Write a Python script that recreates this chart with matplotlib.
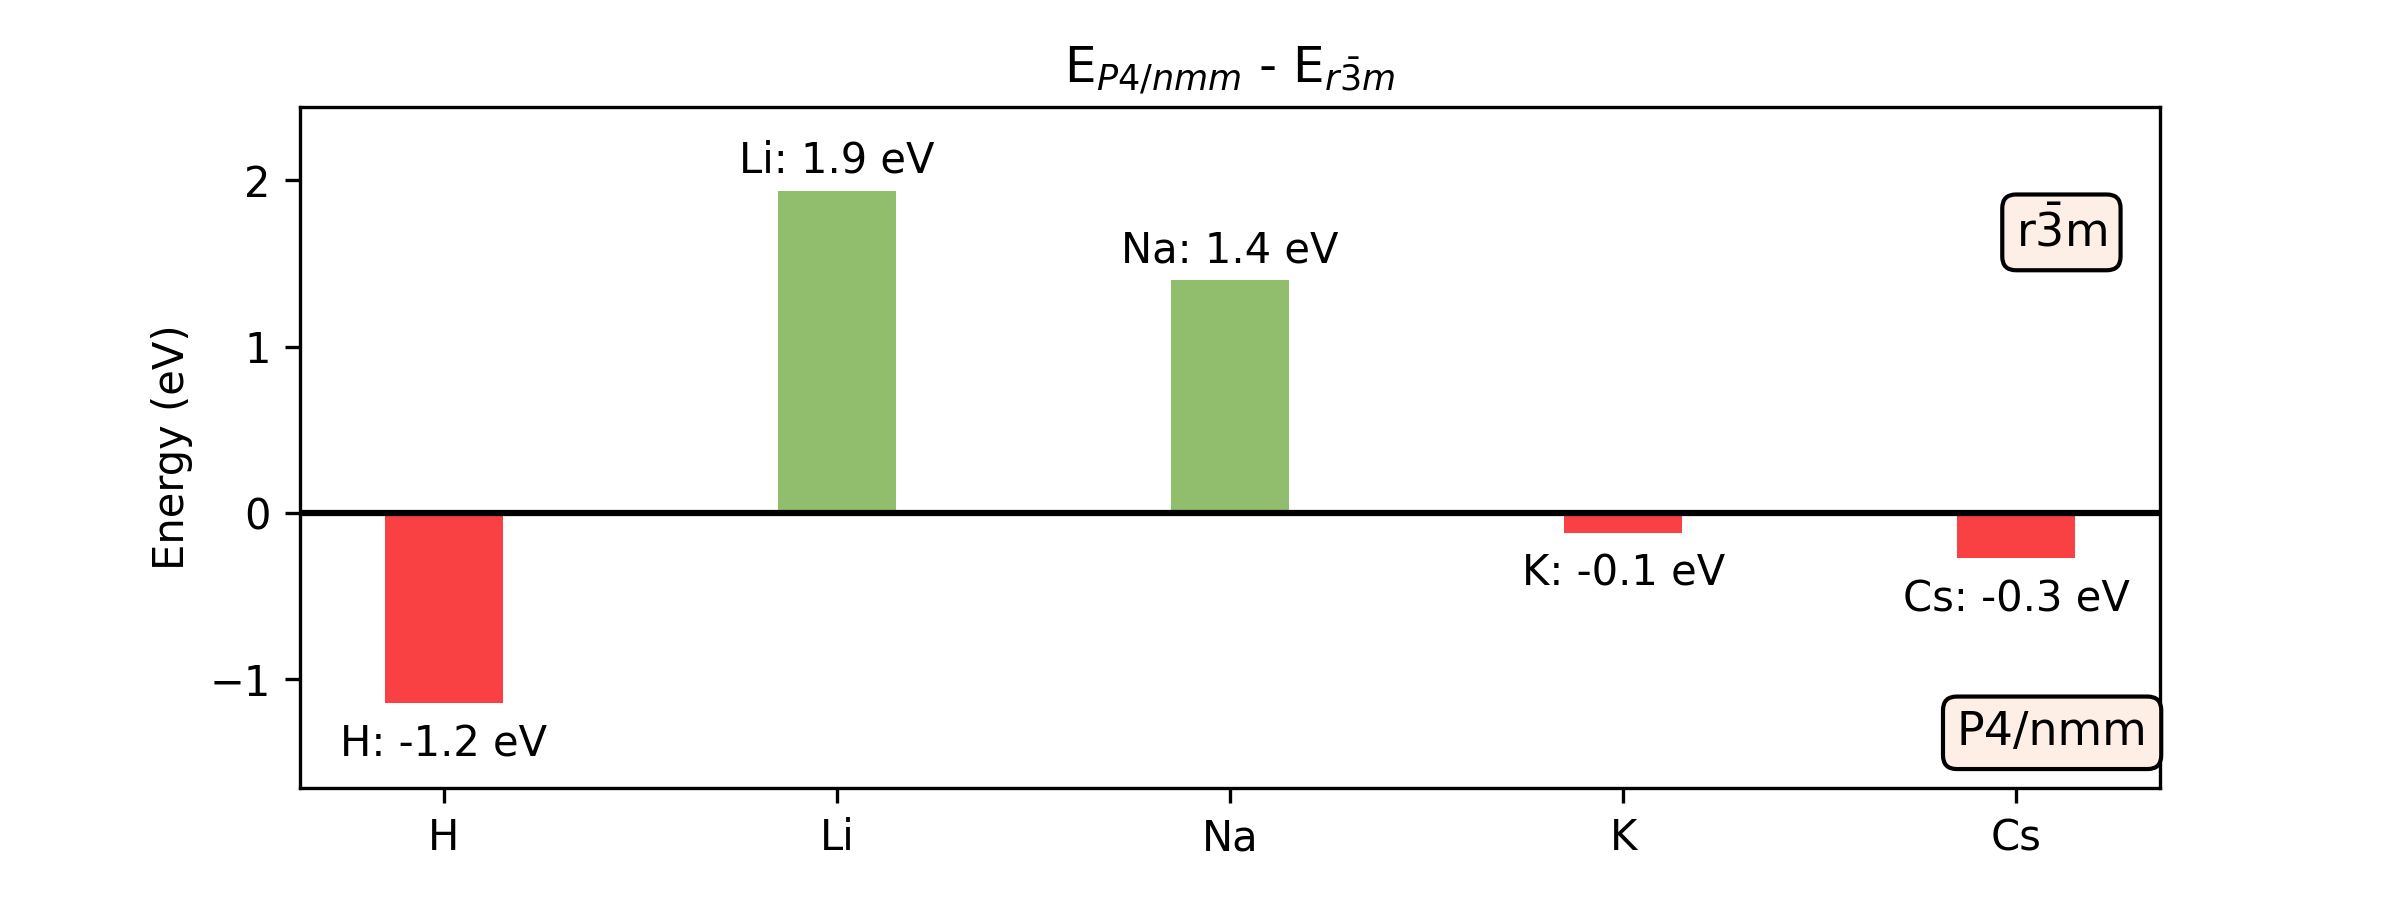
import matplotlib
matplotlib.use("Agg")
import matplotlib.pyplot as plt
import numpy as np

elements = ["H", "Li", "Na", "K", "Cs"]
energies = [-1.146, 1.937, 1.398, -0.12, -0.273]
labels = ["H: -1.2 eV", "Li: 1.9 eV", "Na: 1.4 eV", "K: -0.1 eV", "Cs: -0.3 eV"]

x = np.arange(len(elements))
colors = ["#90BE6D" if e > 0 else "#F94144" for e in energies]

fig, ax = plt.subplots(figsize=(8, 3), dpi=300)
fig.subplots_adjust(left=0.125, right=0.9, top=0.881, bottom=0.1245)

ax.bar(x, energies, width=0.3, color=colors)
ax.axhline(0, color="black", linewidth=1.5)

for xi, e, lab in zip(x, energies, labels):
    if e > 0:
        ax.text(xi, e + 0.055, lab, ha="center", va="bottom", fontsize=10)
    else:
        ax.text(xi, e - 0.12, lab, ha="center", va="top", fontsize=10)

box = dict(boxstyle="round", facecolor="#FDEFE5", edgecolor="black")
ax.text(0.947, 0.816, r"r$\bar{3}$m", transform=ax.transAxes, ha="center", va="center",
        fontsize=11, bbox=box)
ax.text(0.942, 0.081, "P4/nmm", transform=ax.transAxes, ha="center", va="center",
        fontsize=11, bbox=box)

ax.set_xticks(x)
ax.set_xticklabels(elements)
ax.set_ylim(-1.655, 2.44)
ax.set_ylabel("Energy (eV)")
ax.set_title(r"E$_{P4/nmm}$ - E$_{r\bar{3}m}$")

fig.savefig("out.png", dpi=300)
